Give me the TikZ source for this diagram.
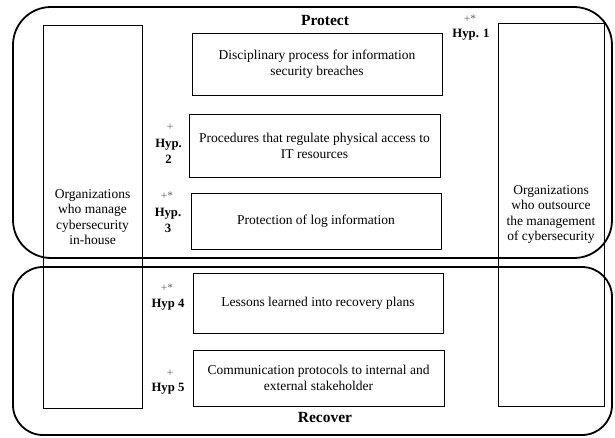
\documentclass[tikz,border=0pt]{standalone}
\usepackage{fontspec}
\setmainfont{Liberation Serif}
\begin{document}
\begin{tikzpicture}[x=1pt,y=-1pt,
  region/.style={draw, line width=1.8pt},
  item/.style={draw, line width=0.8pt, align=center, inner sep=0pt,
    font=\fontsize{13.5}{16.5}\selectfont},
  group/.style={draw, line width=0.8pt, align=center, inner sep=0pt,
    font=\fontsize{13.5}{15.5}\selectfont},
  hyp/.style={align=center, inner sep=0pt, font=\bfseries\fontsize{12.7}{16.5}\selectfont},
  sign/.style={inner sep=0pt, text=black!62, font=\fontsize{11.5}{12}\selectfont},
  title/.style={inner sep=0pt, font=\bfseries\fontsize{15.5}{17}\selectfont}]
\useasboundingbox (0,0) rectangle (615,437);

% the two function regions
\draw[region, rounded corners=38pt] (13,7) rectangle (612,258);
\draw[region, rounded corners=30pt] (13,267) rectangle (612,435);
\node[title] (protect) at (325,20) {Protect};
\node[title] (recover) at (325,417) {Recover};

% the two kinds of organization
\node[group, minimum width=99pt, minimum height=383pt] (inhouse) at (92.5,217)
  {Organizations\\who manage\\cybersecurity\\in-house};
\node[group, minimum width=106pt, minimum height=383pt] (outsource) at (551,214.5)
  {Organizations\\who outsource\\the management\\of cybersecurity};

% practices
\node[item, minimum width=250pt, minimum height=62pt] (b1) at (317,64)
  {Disciplinary process for information\\security breaches};
\node[item, minimum width=251pt, minimum height=63pt] (b2) at (314.5,146)
  {Procedures that regulate physical access to\\IT resources};
\node[item, minimum width=250pt, minimum height=56pt] (b3) at (316,221)
  {Protection of log information};
\node[item, minimum width=250pt, minimum height=60pt] (b4) at (318,303)
  {Lessons learned into recovery plans};
\node[item, minimum width=251pt, minimum height=56pt] (b5) at (318.5,378)
  {Communication protocols to internal and\\external stakeholder};

% hypotheses
\node[sign] (s1) at (470,19) {+*};
\node[hyp] (h1) at (471,35) {Hyp. 1};
\node[sign] (s2) at (170,127) {+};
\node[hyp] (h2) at (168.5,151.5) {Hyp.\\2};
\node[sign] (s3) at (167,196) {+*};
\node[hyp] (h3) at (168,220.5) {Hyp.\\3};
\node[sign] (s4) at (167,288) {+*};
\node[hyp] (h4) at (168,305) {Hyp 4};
\node[sign] (s5) at (170,373) {+};
\node[hyp] (h5) at (168,389) {Hyp 5};
\end{tikzpicture}
\end{document}
